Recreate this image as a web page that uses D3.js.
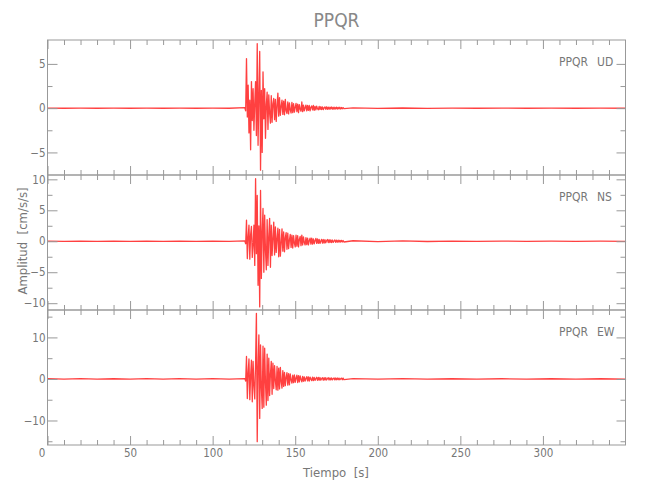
<!DOCTYPE html>
<html>
<head>
<meta charset="utf-8">
<script src="https://cdn.jsdelivr.net/npm/d3@7"></script>
<style>
  html, body { margin: 0; padding: 0; background: #fff; }
  text { font-family: "Liberation Sans Narrow", "DejaVu Sans Condensed", "Arial Narrow", sans-serif; fill: #777; white-space: pre; }
</style>
</head>
<body>
<script>
// ---------------- DATA ----------------
const station = "PPQR";
const components = ["UD", "NS", "EW"];
const yTitle = "Amplitud  [cm/s/s]";
const xTitle = "Tiempo  [s]";

const xDomain = [0, 350];
const xMajorTicks = [0, 50, 100, 150, 200, 250, 300];
const xMinorTicks = [10, 20, 30, 40, 60, 70, 80, 90, 110, 120, 130, 140, 160, 170, 180, 190,
  210, 220, 230, 240, 260, 270, 280, 290, 310, 320, 330, 340];

// y ranges and ticks per component
const udDomain = [-7.55, 7.7];
const nsDomain = [-11.1, 10.7];
const ewDomain = [-15.9, 16.6];
const udMajor = [-5, 0, 5];
const udMinor = [-2.5, 2.5];
const nsMajor = [-10, -5, 0, 5, 10];
const nsMinor = [-7.5, -2.5, 2.5, 7.5];
const ewMajor = [-10, 0, 10];
const ewMinor = [-15, -5, 5, 15];

// sampling of the pieces of each record (start time, step in s)
const preStart = 0, preStep = 10;
const eventStart = 119.5, eventStep = 0.5;
const postStart = 185, postStep = 15;

// UD (cm/s/s)
const udPre = [0.01, -0.01, 0.01, -0.01, 0.01, -0.01, 0.01, -0.01, 0.01, -0.01, 0.01, -0.01];
const udEvent = [
  0.05, -0.3, 5.6, -1.0, 2.6, -2.8, 0.9, -4.7, 3.0, -1.4, 2.2, -2.5, 0.6, 3.0, -3.1, 7.3,
  -4.2, 1.5, 6.4, -7.0, 2.0, -5.0, 4.1, -1.2, 2.2, -3.4, 0.4, 1.8, -2.4, 1.5, -0.6, -1.7,
  1.4, -1.6, 0.5, 1.1, -1.3, 1.0, -1.5, 0.3, 1.7, -0.9, 1.2, -0.8, 0.2, 0.9, -0.7, 0.8,
  -0.75, 1.0, -0.3, -0.6, 0.7, -0.65, 0.6, -0.2, -0.55, 0.65, -0.5, 0.5, -0.45, 0.1, 0.55, -0.4,
  0.45, -0.5, 0.4, -0.1, -0.35, 0.7, -0.4, 0.35, -0.3, 0.05, 0.35, -0.3, 0.3, -0.25, 0.3, -0.3,
  0.1, 0.25, -0.2, 0.3, -0.25, 0.2, -0.2, 0.22, -0.05, -0.18, 0.2, -0.15, 0.18, -0.16, 0.15, -0.17,
  0.05, 0.14, -0.12, 0.15, -0.13, 0.12, -0.14, 0.12, -0.1, 0.13, -0.11, 0.1, -0.12, 0.1, -0.09, 0.11,
  -0.1, 0.09, -0.08, 0.1, -0.09, 0.08, -0.07, 0.06, -0.05];
const udPost = [0.03, -0.02, 0.02, -0.02, 0.01, -0.01, 0.01, -0.01, 0.01, -0.01, 0.01, -0.01];

// NS (cm/s/s)
const nsPre = [0.015, -0.015, 0.015, -0.015, 0.015, -0.015, 0.015, -0.015, 0.015, -0.015, 0.015, -0.015];
const nsEvent = [
  0.05, -0.4, 3.4, -2.8, 0.7, 2.6, -2.9, 1.1, 2.4, -2.6, -0.5, 2.6, -3.9, 10.1, -2.0, 7.4,
  -7.1, 2.5, -10.6, 8.2, -6.0, 1.4, 5.3, -5.0, 4.2, -1.5, -4.6, 3.5, -3.9, 0.8, 3.7, -4.2,
  2.6, -2.3, 0.5, 3.1, -2.2, 2.3, -1.8, 0.4, 2.1, -2.5, 1.9, -2.4, -0.3, 2.0, -1.6, 1.5,
  -1.7, 0.6, 1.4, -1.3, 1.3, -1.2, 0.2, 1.1, -1.0, 1.0, -1.1, 0.9, -0.3, -0.9, 1.0, -0.8,
  0.9, -0.9, 0.3, 0.8, -0.7, 1.0, -0.6, 0.7, -0.2, -0.6, 0.6, -0.55, 0.5, -0.6, 0.1, 0.5,
  -0.45, 0.5, -0.45, 0.4, -0.4, 0.1, 0.45, -0.35, 0.4, -0.35, 0.3, -0.35, 0.05, 0.3, -0.3, 0.28,
  -0.3, 0.25, -0.25, 0.1, 0.28, -0.22, 0.25, -0.2, 0.22, -0.22, 0.2, -0.18, 0.05, 0.2, -0.17, 0.18,
  -0.15, 0.17, -0.15, 0.14, -0.13, 0.14, -0.12, 0.13, -0.12];
const nsPost = [0.08, -0.06, 0.05, -0.04, 0.03, -0.03, 0.02, -0.02, 0.02, -0.02, 0.02, -0.02];

// EW (cm/s/s)
const ewPre = [0.06, -0.05, 0.06, -0.06, 0.05, -0.06, 0.06, -0.05, 0.06, -0.05, 0.06, -0.06];
const ewEvent = [
  0.1, -0.5, 5.4, -4.7, 1.5, 4.8, -5.0, 0.8, 4.5, -5.5, 4.2, -1.6, -4.8, 3.9, 15.8, -15.1,
  3.0, 10.6, -9.5, 8.2, -2.1, -7.1, 7.9, -6.8, 7.4, -0.9, -6.3, 6.0, -5.2, 5.0, -4.0, 1.2,
  4.2, -3.7, 3.8, -2.3, 3.2, -0.5, -2.6, 3.0, -2.7, 2.6, -2.4, 2.8, -0.7, -2.2, 2.0, -1.8,
  1.6, -1.6, 0.3, 1.5, -1.5, 1.3, -1.4, 1.2, -0.2, -1.0, 0.9, -0.9, 0.95, -0.8, 0.2, 0.9,
  -0.85, 0.8, -0.7, 0.75, -0.1, -0.7, 0.6, -0.55, 0.5, -0.5, 0.1, 0.55, -0.45, 0.5, -0.5, 0.45,
  -0.05, -0.4, 0.45, -0.4, 0.4, -0.35, 0.1, 0.4, -0.35, 0.35, -0.3, 0.35, -0.3, 0.05, 0.3, -0.3,
  0.3, -0.28, 0.3, -0.25, 0.05, 0.28, -0.25, 0.26, -0.24, 0.25, -0.22, 0.1, 0.24, -0.22, 0.22, -0.2,
  0.22, -0.2, 0.2, -0.2, 0.05, 0.2, -0.18, 0.2, -0.18];
const ewPost = [0.08, -0.06, 0.06, -0.06, 0.05, -0.05, 0.05, -0.05, 0.05, -0.05, 0.05, -0.05];

// ---------------- CHART ----------------
const W = 650, H = 500;
const left = 47.5, right = 625.5;
const panelTops = [40, 175, 310];
const panelH = 135;

const panels = [
  { comp: components[0], domain: udDomain, major: udMajor, minor: udMinor, pre: udPre, ev: udEvent, post: udPost },
  { comp: components[1], domain: nsDomain, major: nsMajor, minor: nsMinor, pre: nsPre, ev: nsEvent, post: nsPost },
  { comp: components[2], domain: ewDomain, major: ewMajor, minor: ewMinor, pre: ewPre, ev: ewEvent, post: ewPost }
];

const svg = d3.select("body").append("svg").attr("width", W).attr("height", H);
const x = d3.scaleLinear().domain(xDomain).range([left, right]);
const axisColor = "#999";
const fmt = d => (d < 0 ? "\u2212" + Math.abs(d) : String(d));

svg.append("text").attr("x", (left + right) / 2).attr("y", 27)
  .attr("text-anchor", "middle").style("font-size", "19px").style("fill", "#888").text(station);

panels.forEach((p, i) => {
  const top = panelTops[i], bottom = top + panelH;
  const y = d3.scaleLinear().domain(p.domain).range([bottom, top]);
  const g = svg.append("g");

  const pts = [];
  p.pre.forEach((v, k) => pts.push([preStart + k * preStep, v]));
  p.ev.forEach((v, k) => pts.push([eventStart + k * eventStep, v]));
  p.post.forEach((v, k) => pts.push([postStart + k * postStep, v]));
  pts.push([xDomain[1], 0]);

  g.append("path").datum(pts)
    .attr("d", d3.line().x(d => x(d[0])).y(d => y(d[1])))
    .attr("fill", "none").attr("stroke", "#ff0000").attr("stroke-width", 1.3)
    .attr("stroke-opacity", 0.75).attr("stroke-linejoin", "round");

  // frame
  g.append("rect").attr("x", left).attr("y", top).attr("width", right - left).attr("height", panelH)
    .attr("fill", "none").attr("stroke", axisColor).attr("stroke-width", 1);

  const addAxis = (axis, tx, ty) => {
    const a = g.append("g").attr("transform", `translate(${tx},${ty})`).call(axis);
    a.select(".domain").remove();
    a.selectAll("line").attr("stroke", axisColor);
    a.selectAll("text").style("font-size", "11.5px").attr("fill", "#777");
    return a;
  };

  // x ticks: top (pointing down) and bottom (pointing up)
  addAxis(d3.axisBottom(x).tickValues(xMajorTicks).tickSize(9).tickFormat(""), 0, top);
  addAxis(d3.axisBottom(x).tickValues(xMinorTicks).tickSize(5).tickFormat(""), 0, top);
  const isLast = i === panels.length - 1;
  const bx = addAxis(d3.axisBottom(x).tickValues(xMajorTicks).tickSize(-9).tickPadding(4)
    .tickFormat(isLast ? d3.format("d") : ""), 0, bottom);
  if (isLast) bx.selectAll("text").filter(d => d === 0).attr("dx", "-6");
  addAxis(d3.axisBottom(x).tickValues(xMinorTicks).tickSize(-5).tickFormat(""), 0, bottom);

  // y ticks: left (pointing right, with labels) and right (pointing left)
  addAxis(d3.axisLeft(y).tickValues(p.major).tickSize(-10).tickPadding(2).tickFormat(fmt), left, 0);
  addAxis(d3.axisLeft(y).tickValues(p.minor).tickSize(-5).tickFormat(""), left, 0);
  addAxis(d3.axisRight(y).tickValues(p.major).tickSize(-9).tickFormat(""), right, 0);
  addAxis(d3.axisRight(y).tickValues(p.minor).tickSize(-5).tickFormat(""), right, 0);

  // station / component label
  g.append("text").attr("x", 559).attr("y", top + 26).style("font-size", "12px").text(station);
  g.append("text").attr("x", 597).attr("y", top + 26).style("font-size", "12px").text(p.comp);
});

svg.append("text").attr("transform", `translate(27,241) rotate(-90)`)
  .attr("text-anchor", "middle").style("font-size", "13px").text(yTitle);
svg.append("text").attr("x", 336).attr("y", 477)
  .attr("text-anchor", "middle").style("font-size", "13px").text(xTitle);
</script>
</body>
</html>
